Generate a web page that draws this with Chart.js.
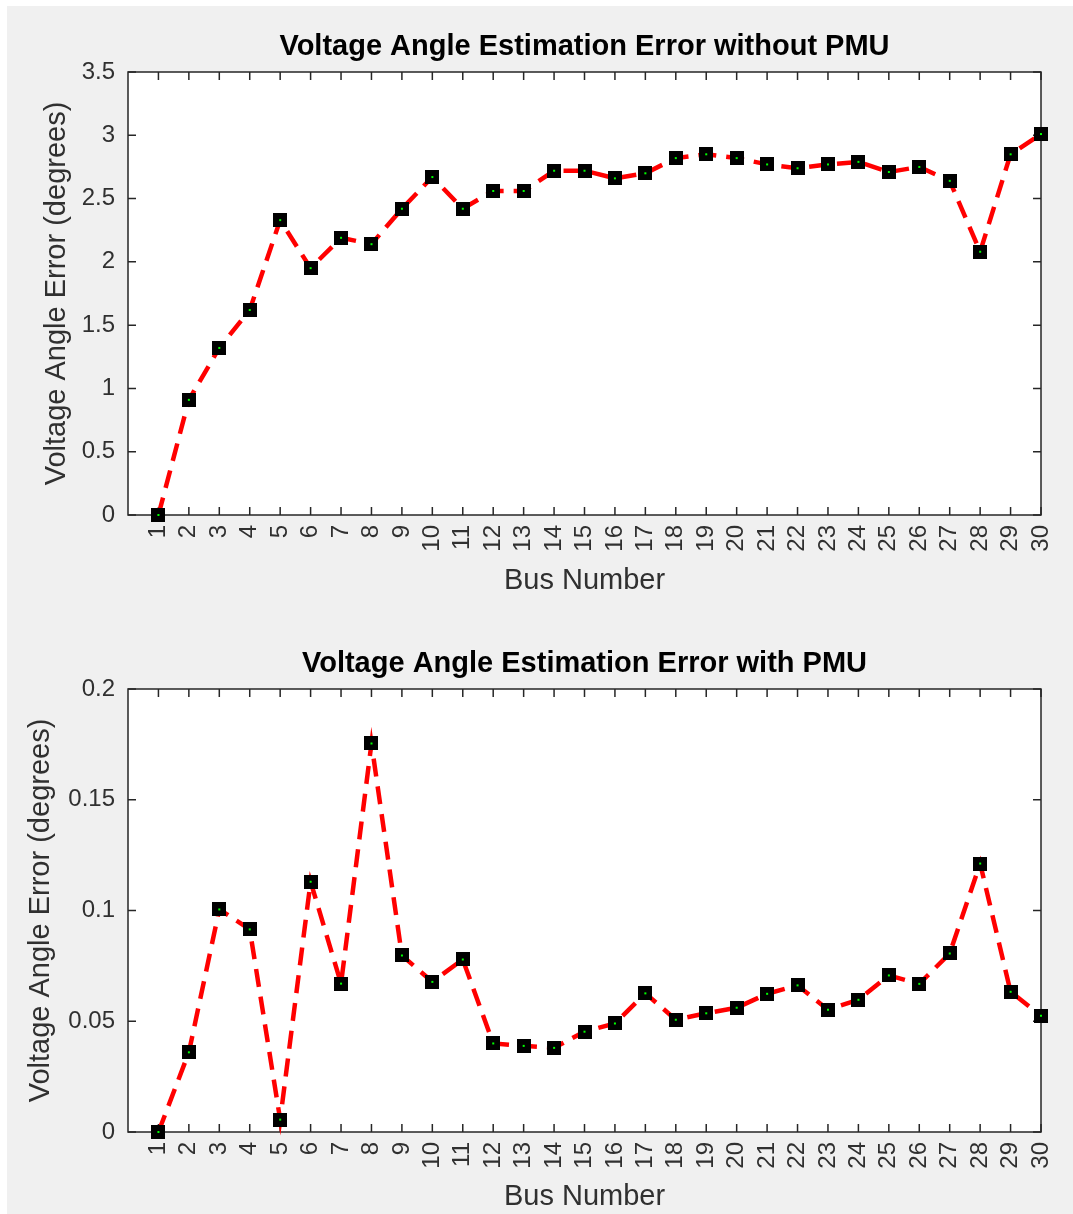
<!DOCTYPE html>
<html>
<head>
<meta charset="utf-8">
<script src="https://cdn.jsdelivr.net/npm/chart.js@4.4.0/dist/chart.umd.min.js"></script>
<style>
  body { margin: 0; background: #ffffff; }
  #page { position: absolute; left: 7px; top: 6px; width: 1066px; height: 1208px; background: #f0f0f0; }
  canvas { position: absolute; left: 0; }
  #chartTop { top: 0; }
  #chartBottom { top: 617px; }
</style>
</head>
<body>
<div id="page"></div>
<canvas id="chartTop" width="1073" height="600"></canvas>
<canvas id="chartBottom" width="1073" height="597"></canvas>
<script>
var busNumbers = [1, 2, 3, 4, 5, 6, 7, 8, 9, 10, 11, 12, 13, 14, 15,
                  16, 17, 18, 19, 20, 21, 22, 23, 24, 25, 26, 27, 28, 29, 30];

// angle error without PMU (degrees)
var errorWithoutPmu = [0, 0.91, 1.32, 1.62, 2.33, 1.95, 2.19, 2.14, 2.42, 2.67,
                       2.42, 2.56, 2.56, 2.72, 2.72, 2.66, 2.70, 2.82, 2.85, 2.82,
                       2.77, 2.74, 2.77, 2.79, 2.71, 2.75, 2.64, 2.08, 2.85, 3.01];

// angle error with PMU (degrees)
var errorWithPmu = [0, 0.036, 0.1005, 0.0915, 0.0056, 0.113, 0.067, 0.1754, 0.0797, 0.0678,
                    0.0779, 0.040, 0.0389, 0.038, 0.0453, 0.049, 0.0626, 0.0507, 0.0536, 0.0561,
                    0.0624, 0.0662, 0.0552, 0.0597, 0.0707, 0.0669, 0.0806, 0.1212, 0.0633, 0.0525];

var topYTicks = [0, 0.5, 1, 1.5, 2, 2.5, 3, 3.5];
var bottomYTicks = [0, 0.05, 0.1, 0.15, 0.2];

var FONT = "'Liberation Sans', Arial, Helvetica, sans-serif";
var TEXT = '#303030';

// black square marker with a small green dot in the middle
function makeMarker() {
    var c = document.createElement('canvas');
    c.width = 14;
    c.height = 14;
    var g = c.getContext('2d');
    g.fillStyle = '#000000';
    g.fillRect(0, 0, 14, 14);
    g.fillStyle = '#00ff00';
    g.fillRect(6, 6, 2, 2);
    return c;
}
var marker = makeMarker();

// white plot box, dark frame, inward ticks on all four sides and a title centred on the box
var boxPlugin = {
    id: 'box',
    beforeDraw: function (chart) {
        var a = chart.chartArea;
        var ctx = chart.ctx;
        ctx.save();
        ctx.fillStyle = '#ffffff';
        ctx.fillRect(a.left, a.top, a.right - a.left, a.bottom - a.top);
        ctx.restore();
    },
    beforeDatasetsDraw: function (chart, args, opts) {
        var a = chart.chartArea;
        var ctx = chart.ctx;
        var xs = chart.scales.x;
        var ys = chart.scales.y;
        var len = 8;
        ctx.save();
        ctx.strokeStyle = '#262626';
        ctx.lineWidth = 1.5;
        ctx.beginPath();
        busNumbers.forEach(function (b) {
            var px = xs.getPixelForValue(b);
            ctx.moveTo(px, a.bottom);
            ctx.lineTo(px, a.bottom - len);
            ctx.moveTo(px, a.top);
            ctx.lineTo(px, a.top + len);
        });
        ys.ticks.forEach(function (t) {
            var py = ys.getPixelForValue(t.value);
            ctx.moveTo(a.left, py);
            ctx.lineTo(a.left + len, py);
            ctx.moveTo(a.right, py);
            ctx.lineTo(a.right - len, py);
        });
        ctx.stroke();
        ctx.strokeRect(a.left, a.top, a.right - a.left, a.bottom - a.top);

        ctx.fillStyle = '#000000';
        ctx.font = 'bold 29px ' + FONT;
        ctx.textAlign = 'center';
        ctx.textBaseline = 'middle';
        ctx.fillText(opts.text, (a.left + a.right) / 2, a.top - 25);
        ctx.restore();
    }
};

function createErrorChart(canvasId, title, values, yTicks, canvasHeight, yTitlePad, xTitlePad) {
    var ctx = document.getElementById(canvasId).getContext('2d');
    var points = busNumbers.map(function (b, i) { return { x: b, y: values[i] }; });

    return new Chart(ctx, {
        type: 'line',
        data: {
            datasets: [{
                data: points,
                borderColor: '#ff0000',
                borderWidth: 4.5,
                borderDash: [18, 10],
                tension: 0,
                pointStyle: marker,
                pointRadius: 7,
                clip: false
            }]
        },
        options: {
            responsive: false,
            animation: false,
            devicePixelRatio: 1,
            layout: { padding: { left: 0, right: 0, top: 72, bottom: 0 } },
            plugins: {
                legend: { display: false },
                tooltip: { enabled: false },
                title: { display: false },
                box: { text: title }
            },
            scales: {
                x: {
                    type: 'linear',
                    min: 0,
                    max: 30,
                    grid: { display: false, drawTicks: false },
                    border: { display: false },
                    afterBuildTicks: function (scale) {
                        scale.ticks = busNumbers.map(function (b) { return { value: b }; });
                    },
                    afterFit: function (scale) {
                        scale.height = canvasHeight - 515;
                        scale.paddingLeft = 0;
                        scale.paddingRight = 32;
                    },
                    ticks: {
                        autoSkip: false,
                        minRotation: 90,
                        maxRotation: 90,
                        padding: 10,
                        color: TEXT,
                        font: { family: FONT, size: 24 }
                    },
                    title: {
                        display: true,
                        text: 'Bus Number',
                        color: TEXT,
                        font: { family: FONT, size: 29 },
                        padding: { top: 0, bottom: xTitlePad }
                    }
                },
                y: {
                    type: 'linear',
                    min: yTicks[0],
                    max: yTicks[yTicks.length - 1],
                    grid: { display: false, drawTicks: false },
                    border: { display: false },
                    afterBuildTicks: function (scale) {
                        scale.ticks = yTicks.map(function (v) { return { value: v }; });
                    },
                    afterFit: function (scale) { scale.width = 128; },
                    ticks: {
                        padding: 13,
                        color: TEXT,
                        font: { family: FONT, size: 24 },
                        callback: function (v) { return String(v); }
                    },
                    title: {
                        display: true,
                        text: 'Voltage Angle Error (degrees)',
                        color: TEXT,
                        font: { family: FONT, size: 29 },
                        padding: { top: yTitlePad, bottom: 0 }
                    }
                }
            }
        },
        plugins: [boxPlugin]
    });
}

createErrorChart('chartTop', 'Voltage Angle Estimation Error without PMU', errorWithoutPmu, topYTicks, 600, 40, 2);
createErrorChart('chartBottom', 'Voltage Angle Estimation Error with PMU', errorWithPmu, bottomYTicks, 597, 24, 0);
</script>
</body>
</html>
